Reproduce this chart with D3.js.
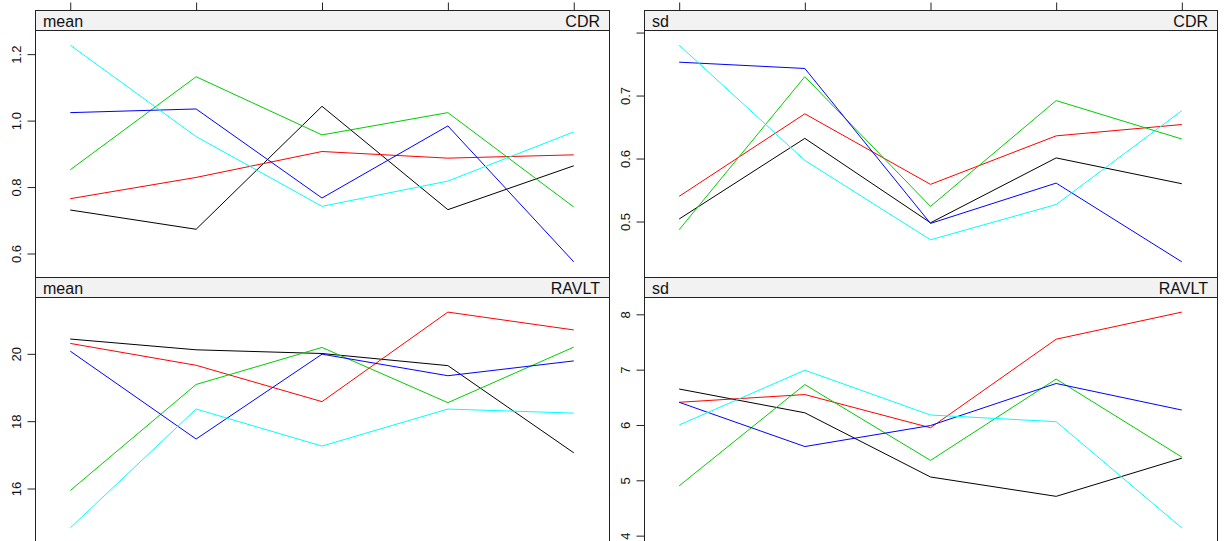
<!DOCTYPE html>
<html>
<head>
<meta charset="utf-8">
<script src="https://cdn.jsdelivr.net/npm/d3@7"></script>
<style>
html,body{margin:0;padding:0;background:#fff;}
svg{display:block;font-family:"Liberation Sans",Arial,sans-serif;}
</style>
</head>
<body>
<svg id="chart" width="1226" height="541"></svg>
<script>
// x categories (time points)
const xValues = [1, 2, 3, 4, 5];
const seriesNames = ["1", "2", "3", "4", "5"];
const seriesColors = ["#000000", "#FF0000", "#00CD00", "#0000FF", "#00FFFF"];

// panel: mean / CDR  (rows = series)
const cdrMean = [
  [0.731, 0.673, 1.043, 0.732, 0.864],
  [0.765, 0.829, 0.907, 0.887, 0.897],
  [0.852, 1.132, 0.957, 1.024, 0.740],
  [1.024, 1.035, 0.767, 0.984, 0.575],
  [1.227, 0.952, 0.742, 0.818, 0.966]
];
// panel: sd / CDR
const cdrSd = [
  [0.504, 0.632, 0.498, 0.601, 0.560],
  [0.540, 0.671, 0.559, 0.636, 0.654],
  [0.487, 0.730, 0.524, 0.692, 0.631],
  [0.753, 0.743, 0.497, 0.561, 0.436],
  [0.780, 0.597, 0.471, 0.527, 0.676]
];
// panel: mean / RAVLT
const ravltMean = [
  [20.44, 20.12, 20.01, 19.65, 17.06],
  [20.31, 19.66, 18.58, 21.24, 20.71],
  [15.94, 19.09, 20.19, 18.55, 20.20],
  [20.08, 17.47, 19.99, 19.35, 19.79],
  [14.83, 18.36, 17.26, 18.36, 18.24]
];
// panel: sd / RAVLT
const ravltSd = [
  [6.65, 6.22, 5.06, 4.71, 5.40],
  [6.41, 6.55, 5.95, 7.55, 8.04],
  [4.90, 6.73, 5.36, 6.83, 5.42],
  [6.41, 5.61, 5.99, 6.75, 6.27],
  [6.00, 6.99, 6.18, 6.06, 4.14]
];

// tick values and labels
const cdrMeanTicks = [0.6, 0.8, 1.0, 1.2];
const cdrMeanTickLabels = ["0.6", "0.8", "1.0", "1.2"];
const cdrSdTicks = [0.5, 0.6, 0.7, 0.8];
const cdrSdTickLabels = ["0.5", "0.6", "0.7", ""];
const ravltMeanTicks = [16, 18, 20];
const ravltMeanTickLabels = ["16", "18", "20"];
const ravltSdTicks = [4, 5, 6, 7, 8];
const ravltSdTickLabels = ["4", "5", "6", "7", "8"];

const panels = [
  {stat: "mean", measure: "CDR", data: cdrMean, ticks: cdrMeanTicks, labels: cdrMeanTickLabels, col: 0, row: 0},
  {stat: "sd", measure: "CDR", data: cdrSd, ticks: cdrSdTicks, labels: cdrSdTickLabels, col: 1, row: 0},
  {stat: "mean", measure: "RAVLT", data: ravltMean, ticks: ravltMeanTicks, labels: ravltMeanTickLabels, col: 0, row: 1},
  {stat: "sd", measure: "RAVLT", data: ravltSd, ticks: ravltSdTicks, labels: ravltSdTickLabels, col: 1, row: 1}
];

// layout
const colX = [[35, 609], [644, 1217]];
const rowY = [{strip: 10, top: 30, bottom: 277}, {strip: 277, top: 297, bottom: 543}];
const stripColor = "#f2f2f2";
const frameColor = "#222";

const svg = d3.select("#chart");

function extendLimits(ext) {
  const d = ext[1] - ext[0];
  return [ext[0] - 0.07 * d, ext[1] + 0.07 * d];
}

panels.forEach(p => {
  const [x0, x1] = colX[p.col];
  const r = rowY[p.row];
  const g = svg.append("g");

  const x = d3.scaleLinear().domain(extendLimits(d3.extent(xValues))).range([x0, x1]);
  const allVals = p.data.flat();
  const y = d3.scaleLinear().domain(extendLimits(d3.extent(allVals))).range([r.bottom, r.top]);

  // strip
  g.append("rect").attr("x", x0 + 0.5).attr("y", r.strip + 0.5)
    .attr("width", x1 - x0).attr("height", r.top - r.strip)
    .attr("fill", stripColor).attr("stroke", frameColor).attr("stroke-width", 1);
  g.append("text").attr("x", x0 + 8).attr("y", r.strip + 17)
    .attr("font-size", 16).attr("fill", "#111").text(p.stat);
  g.append("text").attr("x", x1 - 9).attr("y", r.strip + 17)
    .attr("text-anchor", "end").attr("font-size", 16).attr("fill", "#111").text(p.measure);

  // panel frame
  g.append("rect").attr("x", x0 + 0.5).attr("y", r.top + 0.5)
    .attr("width", x1 - x0).attr("height", r.bottom - r.top)
    .attr("fill", "none").attr("stroke", frameColor).attr("stroke-width", 1);

  // left y axis ticks
  const yAxis = d3.axisLeft(y).tickValues(p.ticks).tickSize(8).tickPadding(0)
    .tickFormat((d, i) => p.labels[i]);
  const ag = g.append("g").attr("transform", `translate(${x0 + 0.5},0)`).call(yAxis);
  ag.select(".domain").remove();
  ag.selectAll(".tick line").attr("stroke", frameColor);
  ag.selectAll(".tick text")
    .attr("x", null).attr("dy", null)
    .attr("transform", "translate(-15,0) rotate(-90)")
    .attr("text-anchor", "middle")
    .attr("font-size", 13)
    .attr("font-family", '"Liberation Sans",Arial,sans-serif')
    .attr("fill", "#111");

  // top x axis ticks (top row only)
  if (p.row === 0) {
    const xAxis = d3.axisTop(x).tickValues(xValues).tickSize(8).tickFormat("");
    const xg = g.append("g").attr("transform", `translate(0,${r.strip + 0.5})`).call(xAxis);
    xg.select(".domain").remove();
    xg.selectAll(".tick line").attr("stroke", frameColor);
  }

  // lines
  const line = d3.line().x((d, i) => x(xValues[i])).y(d => y(d));
  p.data.forEach((vals, si) => {
    g.append("path").datum(vals)
      .attr("d", line)
      .attr("fill", "none")
      .attr("stroke", seriesColors[si])
      .attr("stroke-width", 1)
      .attr("data-series", seriesNames[si]);
  });
});
</script>
</body>
</html>
